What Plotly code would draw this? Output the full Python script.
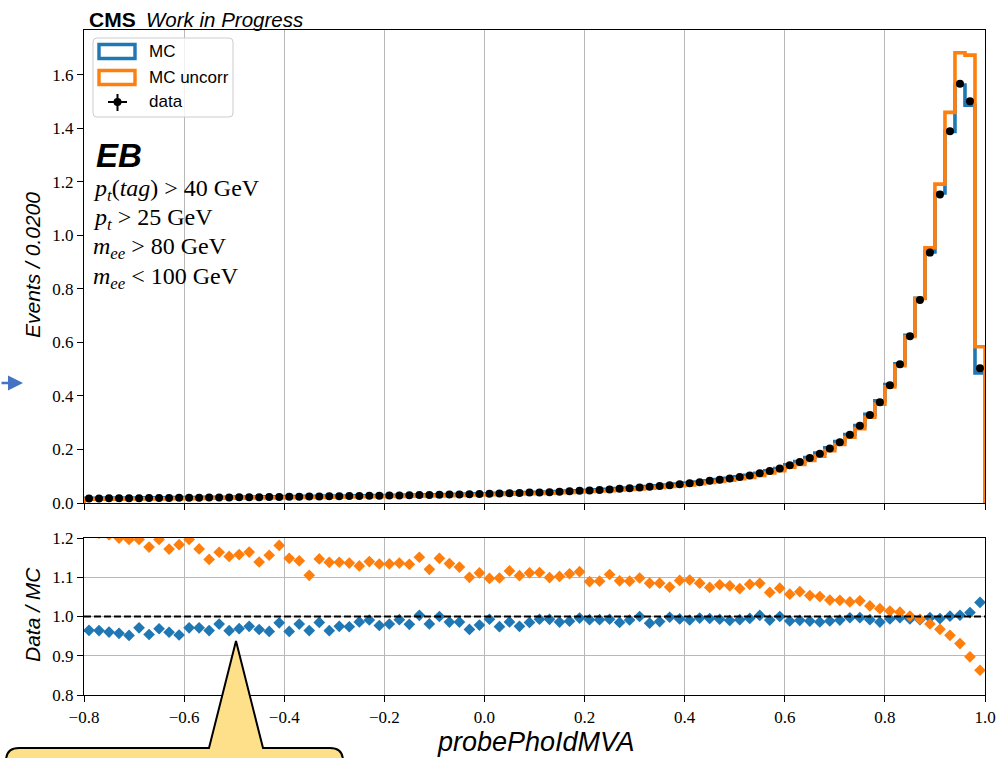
import numpy as np
import plotly.graph_objects as go

# ---- binning: probePhoIdMVA, 90 bins of width 0.02 ----
x_lo, x_hi, n_bins = -0.8, 1.0, 90
edges = np.linspace(x_lo, x_hi, n_bins + 1)
centers = 0.5 * (edges[:-1] + edges[1:])

# ---- per-bin contents (Events / 0.0200) ----
data = [0.0170, 0.0172, 0.0174, 0.0176, 0.0178, 0.0181, 0.0183, 0.0186, 0.0189, 0.0192,
        0.0195, 0.0198, 0.0201, 0.0204, 0.0208, 0.0212, 0.0215, 0.0219, 0.0223, 0.0227,
        0.0231, 0.0235, 0.0239, 0.0243, 0.0248, 0.0252, 0.0257, 0.0262, 0.0267, 0.0272,
        0.0277, 0.0283, 0.0289, 0.0295, 0.0301, 0.0307, 0.0314, 0.0321, 0.0328, 0.0335,
        0.0343, 0.0356, 0.0368, 0.0378, 0.0388, 0.0395, 0.0406, 0.0420, 0.0440, 0.0455,
        0.0470, 0.0490, 0.0507, 0.0530, 0.0555, 0.0580, 0.0605, 0.0632, 0.0668, 0.0705,
        0.0742, 0.0780, 0.0828, 0.0868, 0.0917, 0.0968, 0.1030, 0.1115, 0.1192, 0.1292,
        0.1415, 0.1530, 0.1680, 0.1840, 0.2040, 0.2275, 0.2550, 0.2890, 0.3290, 0.3770,
        0.4400, 0.5190, 0.6230, 0.7590, 0.9360, 1.1530, 1.3900, 1.5670, 1.5020, 0.5040]

mc = [0.01762, 0.01784, 0.01812, 0.01839, 0.0187, 0.01864, 0.01918, 0.0192, 0.01969, 0.02015,
      0.02008, 0.02039, 0.02085, 0.0208, 0.02158, 0.02188, 0.02205, 0.02265, 0.02318, 0.02307,
      0.02401, 0.02396, 0.02479, 0.02467, 0.02573, 0.02585, 0.02639, 0.02657, 0.02694, 0.02784,
      0.02824, 0.02853, 0.02949, 0.02941, 0.03068, 0.0307, 0.03185, 0.03256, 0.03392, 0.03425,
      0.03454, 0.03655, 0.03732, 0.03877, 0.03939, 0.03978, 0.04089, 0.0426, 0.04453, 0.04568,
      0.04738, 0.0494, 0.05106, 0.05381, 0.056, 0.058, 0.06155, 0.06403, 0.06693, 0.07093,
      0.07487, 0.07831, 0.08322, 0.08741, 0.09263, 0.09758, 0.1035, 0.1112, 0.1203, 0.1292,
      0.1431, 0.1545, 0.17, 0.1866, 0.2063, 0.2296, 0.2558, 0.2899, 0.3317, 0.3824,
      0.4427, 0.5206, 0.6268, 0.7651, 0.9388, 1.159, 1.389, 1.562, 1.487, 0.4865]

mc_uncorr = [0.01388, 0.01419, 0.0144, 0.01467, 0.01488, 0.01513, 0.01555, 0.01555, 0.01613, 0.01623,
             0.0163, 0.01689, 0.01755, 0.01753, 0.01804, 0.01831, 0.01847, 0.01923, 0.01929, 0.01922,
             0.02012, 0.02058, 0.02163, 0.02119, 0.02179, 0.02214, 0.02262, 0.02321, 0.02342, 0.02399,
             0.02443, 0.02491, 0.02551, 0.02563, 0.02687, 0.02674, 0.02767, 0.02851, 0.02982, 0.03015,
             0.03127, 0.03242, 0.03297, 0.03424, 0.03492, 0.03552, 0.03694, 0.03811, 0.03968, 0.04084,
             0.04316, 0.04495, 0.0458, 0.04858, 0.05092, 0.05282, 0.05576, 0.05825, 0.06214, 0.06456,
             0.06789, 0.07189, 0.07709, 0.0803, 0.08506, 0.09038, 0.09519, 0.1028, 0.1123, 0.1205,
             0.1339, 0.1439, 0.1595, 0.1751, 0.1958, 0.2185, 0.2459, 0.2779, 0.3204, 0.3696,
             0.4339, 0.5134, 0.6224, 0.7644, 0.9541, 1.192, 1.46, 1.683, 1.674, 0.584]

ratio_mc = np.array(data) / np.array(mc)
ratio_uncorr = np.array(data) / np.array(mc_uncorr)

x_ticks = [-0.8, -0.6, -0.4, -0.2, 0.0, 0.2, 0.4, 0.6, 0.8, 1.0]
x_ticktext = ["\u22120.8", "\u22120.6", "\u22120.4", "\u22120.2", "0.0", "0.2", "0.4", "0.6", "0.8", "1.0"]
y_ticks = [0.0, 0.2, 0.4, 0.6, 0.8, 1.0, 1.2, 1.4, 1.6]
y_ticktext = ["0.0", "0.2", "0.4", "0.6", "0.8", "1.0", "1.2", "1.4", "1.6"]
r_ticks = [0.8, 0.9, 1.0, 1.1, 1.2]
r_ticktext = ["0.8", "0.9", "1.0", "1.1", "1.2"]

BLUE = "#1f77b4"
ORANGE = "#ff7f0e"
SANS = "Liberation Sans"
SERIF = "Liberation Serif"

# ---- canvas geometry (pixels) ----
W, H = 999, 758
L, R, T, B = 84, 985, 30, 695
TOP_BOTTOM, RAT_TOP = 503, 538


def px(X):
    return (X - L) / (R - L)


def py(Y):
    return (B - Y) / (B - T)


def step_xy(values):
    xs = [edges[0]] + list(edges)
    ys = [0.0] + list(values) + [0.0]
    return xs, ys


fig = go.Figure()

for vals, col, name in [(mc, BLUE, "MC"), (mc_uncorr, ORANGE, "MC uncorr")]:
    sx, sy = step_xy(vals)
    fig.add_trace(go.Scatter(x=sx, y=sy, mode="lines", line=dict(color=col, width=3.6, shape="hv"),
                             name=name, showlegend=False, xaxis="x", yaxis="y"))

fig.add_trace(go.Scatter(x=centers, y=data, mode="markers", name="data", showlegend=False,
                         marker=dict(color="black", size=8, symbol="circle"),
                         xaxis="x", yaxis="y"))

for vals, col in [(ratio_mc, BLUE), (ratio_uncorr, ORANGE)]:
    fig.add_trace(go.Scatter(x=centers, y=vals, mode="markers", showlegend=False,
                             marker=dict(color=col, size=9, symbol="diamond"),
                             xaxis="x2", yaxis="y2"))

axis_common = dict(showline=True, linecolor="black", linewidth=1.3, mirror=True,
                   ticks="outside", ticklen=6, tickwidth=1.2, tickcolor="black",
                   tickfont=dict(family=SERIF, size=17, color="black"), zeroline=False,
                   automargin=False)

fig.update_layout(
    width=W, height=H, autosize=False,
    margin=dict(l=L, r=W - R, t=T, b=H - B, pad=0, autoexpand=False),
    paper_bgcolor="white", plot_bgcolor="white",
    showlegend=False,
    xaxis=dict(domain=[0, 1], range=[x_lo, x_hi], tickvals=x_ticks, showticklabels=False,
               showgrid=True, gridcolor="#b8b8b8", gridwidth=1, anchor="y", **axis_common),
    yaxis=dict(domain=[py(TOP_BOTTOM), 1], range=[0, 1.768], tickvals=y_ticks, ticktext=y_ticktext,
               showgrid=False, anchor="x", **axis_common),
    xaxis2=dict(domain=[0, 1], range=[x_lo, x_hi], tickvals=x_ticks, ticktext=x_ticktext,
                showgrid=True, gridcolor="#b8b8b8", gridwidth=1, anchor="y2", matches="x", **axis_common),
    yaxis2=dict(domain=[0, py(RAT_TOP)], range=[0.8, 1.2], tickvals=r_ticks, ticktext=r_ticktext,
                showgrid=True, gridcolor="#b8b8b8", gridwidth=1, anchor="x2", **axis_common),
)

# unity line in the ratio panel
fig.add_shape(type="line", xref="x2", yref="y2", x0=x_lo, x1=x_hi, y0=1.0, y1=1.0,
              line=dict(color="black", width=2, dash="7px,3px"), layer="above")

# axis titles
fig.add_annotation(text="<i>Events / 0.0200</i>", xref="paper", yref="paper", x=px(32), y=py(265),
                   textangle=-90, showarrow=False, xanchor="center", yanchor="middle",
                   font=dict(family=SANS, size=21, color="black"))
fig.add_annotation(text="<i>Data / MC</i>", xref="paper", yref="paper", x=px(32), y=py(615),
                   textangle=-90, showarrow=False, xanchor="center", yanchor="middle",
                   font=dict(family=SANS, size=21, color="black"))
fig.add_annotation(text="<i>probePhoIdMVA</i>", xref="paper", yref="paper", x=px(536), y=py(742),
                   showarrow=False, xanchor="center", yanchor="middle",
                   font=dict(family=SANS, size=27, color="black"))

# experiment label
fig.add_annotation(text="<b>CMS</b>", xref="paper", yref="paper", x=px(87), y=py(19),
                   showarrow=False, xanchor="left", yanchor="middle",
                   font=dict(family=SANS, size=21, color="black"))
fig.add_annotation(text="<i>Work in Progress</i>", xref="paper", yref="paper", x=px(144), y=py(19),
                   showarrow=False, xanchor="left", yanchor="middle",
                   font=dict(family=SANS, size=20.5, color="black"))

# region and selection
fig.add_annotation(text="<b><i>EB</i></b>", xref="paper", yref="paper", x=px(94), y=py(155),
                   showarrow=False, xanchor="left", yanchor="middle",
                   font=dict(family=SANS, size=33, color="black"))
cuts = ["<i>p</i><sub><i>t</i></sub>(<i>tag</i>) &gt; 40 GeV",
        "<i>p</i><sub><i>t</i></sub> &gt; 25 GeV",
        "<i>m</i><sub><i>ee</i></sub> &gt; 80 GeV",
        "<i>m</i><sub><i>ee</i></sub> &lt; 100 GeV"]
for k, txt in enumerate(cuts):
    fig.add_annotation(text=txt, xref="paper", yref="paper", x=px(91), y=py(190 + 29.2 * k),
                       showarrow=False, xanchor="left", yanchor="middle",
                       font=dict(family=SERIF, size=24, color="black"))

# legend box
def rounded_rect(x0, y0, x1, y1, r):
    return (f"M {px(x0 + r)} {py(y0)} L {px(x1 - r)} {py(y0)} Q {px(x1)} {py(y0)} {px(x1)} {py(y0 + r)} "
            f"L {px(x1)} {py(y1 - r)} Q {px(x1)} {py(y1)} {px(x1 - r)} {py(y1)} "
            f"L {px(x0 + r)} {py(y1)} Q {px(x0)} {py(y1)} {px(x0)} {py(y1 - r)} "
            f"L {px(x0)} {py(y0 + r)} Q {px(x0)} {py(y0)} {px(x0 + r)} {py(y0)} Z")

fig.add_shape(type="path", xref="paper", yref="paper", path=rounded_rect(93, 38, 233, 117, 4),
              fillcolor="rgba(255,255,255,0.8)", line=dict(color="#cccccc", width=1), layer="above")
for k, (col, label) in enumerate([(BLUE, "MC"), (ORANGE, "MC uncorr")]):
    yc = 51.5 + 26 * k
    fig.add_shape(type="rect", xref="paper", yref="paper", x0=px(99), x1=px(135),
                  y0=py(yc + 7), y1=py(yc - 7), line=dict(color=col, width=3.4),
                  fillcolor="rgba(0,0,0,0)", layer="above")
    fig.add_annotation(text=label, xref="paper", yref="paper", x=px(147), y=py(yc),
                       showarrow=False, xanchor="left", yanchor="middle",
                       font=dict(family=SANS, size=17, color="black"))
fig.add_shape(type="line", xref="paper", yref="paper", x0=px(108), x1=px(127), y0=py(102), y1=py(102),
              line=dict(color="black", width=2), layer="above")
fig.add_shape(type="line", xref="paper", yref="paper", x0=px(117.5), x1=px(117.5), y0=py(94), y1=py(111),
              line=dict(color="black", width=2), layer="above")
fig.add_shape(type="circle", xref="paper", yref="paper", x0=px(113.5), x1=px(121.5), y0=py(98), y1=py(106),
              fillcolor="black", line=dict(color="black", width=0), layer="above")
fig.add_annotation(text="data", xref="paper", yref="paper", x=px(147), y=py(102),
                   showarrow=False, xanchor="left", yanchor="middle",
                   font=dict(family=SANS, size=17, color="black"))

# side marker arrow
fig.add_annotation(text="", xref="paper", yref="paper", x=px(23), y=py(383), ax=-23, ay=0,
                   showarrow=True, arrowhead=2, arrowsize=1.2, arrowwidth=2.5, arrowcolor="#4472c4")

# callout bubble
bubble = (f"M {px(6)} {py(790)} L {px(6)} {py(761)} Q {px(6)} {py(748)} {px(19)} {py(748)} "
          f"L {px(209)} {py(748)} L {px(236)} {py(641)} L {px(263)} {py(748)} "
          f"L {px(330)} {py(748)} Q {px(343)} {py(748)} {px(343)} {py(761)} L {px(343)} {py(790)} Z")
fig.add_shape(type="path", xref="paper", yref="paper", path=bubble, fillcolor="#ffe08a",
              line=dict(color="black", width=2), layer="above")

fig.write_html("out.html")
